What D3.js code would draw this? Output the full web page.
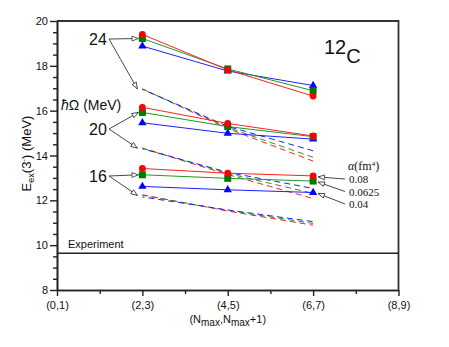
<!DOCTYPE html>
<html>
<head>
<meta charset="utf-8">
<script src="https://cdn.jsdelivr.net/npm/d3@7"></script>
<style>
  body { margin: 0; background: #fff; }
  text { font-family: "Liberation Sans", Arial, sans-serif; fill: #111; }
  .serif { font-family: "Liberation Serif", "Times New Roman", serif; }
</style>
</head>
<body>
<div id="chart"></div>
<script>
// x categories (Nmax, Nmax+1)
const xLabels = ['(0,1)', '(2,3)', '(4,5)', '(6,7)', '(8,9)'];
const xUsed = [1, 2, 3];

// alpha values (fm^4) in order red, green, blue
const alphas = ['0.08', '0.0625', '0.04'];
const hwLabels = ['24', '20', '16'];

// solid lines: E_ex(3-) per hbar-omega, rows = alpha
const solid24 = [[19.40, 17.82, 16.65], [19.22, 17.86, 16.89], [18.88, 17.77, 17.12]];
const solid20 = [[16.15, 15.43, 14.87], [15.92, 15.29, 14.84], [15.46, 14.99, 14.73]];
const solid16 = [[13.42, 13.21, 13.09], [13.14, 12.98, 12.86], [12.62, 12.47, 12.35]];

// dashed lines
const dashed24 = [[16.97, 15.20, 13.75], [16.97, 15.25, 13.92], [16.95, 15.30, 14.21]];
const dashed20 = [[14.33, 13.15, 12.08], [14.33, 13.20, 12.31], [14.30, 13.25, 12.53]];
const dashed16 = [[12.25, 11.52, 10.89], [12.22, 11.55, 10.97], [12.15, 11.57, 11.05]];

const experiment = 9.64;
const yTicks = [8, 10, 12, 14, 16, 18, 20];

let width = 449,
    height = 347,
    margin = {top: 21, left: 57, bottom: 57, right: 50.5};

const colors = ['#ff2020', '#1f9a1f', '#2020ff'];
const markColors = ['#ff0000', '#007a00', '#0000ff'];

let svg = d3.select('#chart')
  .append('svg')
  .attr('width', width)
  .attr('height', height);

let defs = svg.append('defs');
defs.append('marker')
  .attr('id', 'open-arrow')
  .attr('markerUnits', 'userSpaceOnUse')
  .attr('viewBox', '0 0 10 8')
  .attr('refX', 9)
  .attr('refY', 4)
  .attr('markerWidth', 8)
  .attr('markerHeight', 6.4)
  .attr('orient', 'auto')
  .append('path')
  .attr('d', 'M1,1 L9,4 L1,7 Z')
  .attr('fill', '#fff')
  .attr('stroke', '#333')
  .attr('stroke-width', 1);

let x = d3.scaleLinear()
  .domain([0, 4])
  .range([margin.left, width - margin.right]);

let y = d3.scaleLinear()
  .domain([8, 20])
  .range([height - margin.bottom, margin.top]);

// #region axes

let xAxis = d3.axisBottom(x)
  .tickValues(d3.range(0, 5))
  .tickFormat((d) => xLabels[d])
  .tickSizeInner(6)
  .tickSizeOuter(0)
  .tickPadding(5);

let xMinor = d3.axisBottom(x)
  .tickValues(d3.range(0.5, 4, 1))
  .tickFormat('')
  .tickSizeInner(4)
  .tickSizeOuter(0);

let yAxis = d3.axisLeft(y)
  .tickValues(yTicks)
  .tickSizeInner(7)
  .tickSizeOuter(0)
  .tickPadding(2);

let yMinor = d3.axisLeft(y)
  .tickValues(d3.range(8, 20.01, 0.5).filter((v) => v % 2 !== 0))
  .tickFormat('')
  .tickSizeInner(4)
  .tickSizeOuter(0);

function styleAxis(g) {
  g.select('.domain').attr('stroke', '#222').attr('stroke-width', 1.6);
  g.selectAll('.tick line').attr('stroke', '#222').attr('stroke-width', 1.4);
  g.selectAll('.tick text')
    .style('font-family', '"Liberation Sans", Arial, sans-serif')
    .style('font-size', '11px')
    .attr('fill', '#222');
}

svg.append('g')
  .attr('transform', `translate(0,${height - margin.bottom})`)
  .call(xMinor).call(styleAxis);
svg.append('g')
  .attr('transform', `translate(0,${height - margin.bottom})`)
  .call(xAxis).call(styleAxis);
svg.append('g')
  .attr('transform', `translate(${margin.left},0)`)
  .call(yMinor).call(styleAxis);
svg.append('g')
  .attr('transform', `translate(${margin.left},0)`)
  .call(yAxis).call(styleAxis);

// top and right frame
svg.append('path')
  .attr('d', `M${x(0)},${y(20)} H${x(4)} V${y(8)}`)
  .attr('fill', 'none')
  .attr('stroke', '#333')
  .attr('stroke-width', 1.8);

// #endregion

// experiment line
svg.append('line')
  .attr('x1', x(0)).attr('x2', x(4))
  .attr('y1', y(experiment)).attr('y2', y(experiment))
  .attr('stroke', '#222')
  .attr('stroke-width', 1.4);

svg.append('text')
  .attr('x', x(0) + 11)
  .attr('y', y(experiment) - 5)
  .style('font-size', '11px')
  .text('Experiment');

// #region series

let line = d3.line()
  .x((d, i) => x(xUsed[i]))
  .y((d) => y(d));

let dashedSets = [dashed24, dashed20, dashed16];
let solidSets = [solid24, solid20, solid16];

dashedSets.forEach((set) => {
  set.forEach((vals, k) => {
    svg.append('path')
      .attr('d', line(vals))
      .attr('fill', 'none')
      .attr('stroke', colors[k])
      .attr('stroke-width', 1)
      .attr('stroke-dasharray', '6,4')
      .attr('stroke-dashoffset', k * 2);
  });
});

let triangle = d3.symbol().type(d3.symbolTriangle).size(30);

solidSets.forEach((set) => {
  [2, 1, 0].forEach((k) => {
    let vals = set[k];
    svg.append('path')
      .attr('d', line(vals))
      .attr('fill', 'none')
      .attr('stroke', colors[k])
      .attr('stroke-width', 1);
  });
  [2, 1, 0].forEach((k) => {
    let g = svg.append('g');
    set[k].forEach((v, i) => {
      let cx = x(xUsed[i]), cy = y(v);
      if (k === 0) {
        g.append('circle').attr('cx', cx).attr('cy', cy).attr('r', 3.4)
          .attr('fill', markColors[k]);
      } else if (k === 1) {
        g.append('rect').attr('x', cx - 3.5).attr('y', cy - 3.5)
          .attr('width', 7).attr('height', 7).attr('fill', markColors[k]);
      } else {
        g.append('path').attr('d', triangle)
          .attr('transform', `translate(${cx},${cy})`)
          .attr('fill', markColors[k]);
      }
    });
  });
});

// #endregion

// #region annotations

function arrow(x1, y1, x2, y2) {
  svg.append('line')
    .attr('x1', x1).attr('y1', y1)
    .attr('x2', x2).attr('y2', y2)
    .attr('stroke', '#333')
    .attr('stroke-width', 0.9)
    .attr('marker-end', 'url(#open-arrow)');
}

let hwTextY = [39, 129, 176];
hwLabels.forEach((lab, i) => {
  svg.append('text')
    .attr('x', 89)
    .attr('y', hwTextY[i] + 6)
    .style('font-size', '16px')
    .text(lab);
  let sx = 109, sy = hwTextY[i];
  arrow(sx, sy, x(1) - 4, y(solidSets[i][1][0]));
  arrow(sx, sy, x(1) - 5, y(dashedSets[i][1][0]));
});

svg.append('text')
  .attr('x', 61)
  .attr('y', 110)
  .style('font-size', '14px')
  .html('<tspan font-style="italic">ħ</tspan>Ω (MeV)');

// alpha legend
svg.append('text')
  .attr('class', 'serif')
  .attr('x', 348)
  .attr('y', 170)
  .style('font-size', '12px')
  .html('<tspan font-style="italic">α</tspan>(fm<tspan dy="-4" font-size="7px">4</tspan><tspan dy="4">)</tspan>');

let legendY = [179, 191.5, 204];
alphas.forEach((a, k) => {
  svg.append('text')
    .attr('class', 'serif')
    .attr('x', 349)
    .attr('y', legendY[k] + 4)
    .style('font-size', '11px')
    .text(a);
  arrow(345, legendY[k], x(3) + 5, y(solid16[k][2]) + 1);
});

// nucleus label
svg.append('text')
  .attr('x', 324)
  .attr('y', 63)
  .style('font-size', '20px')
  .html('<tspan dy="-9">12</tspan><tspan dy="9">C</tspan>');

// axis titles
svg.append('text')
  .attr('transform', `translate(31,${y(14) - 2}) rotate(-90)`)
  .attr('text-anchor', 'middle')
  .style('font-size', '13px')
  .html('E<tspan dy="3" font-size="9px">ex</tspan><tspan dy="-3">(3</tspan><tspan dy="-5" font-size="8px">-</tspan><tspan dy="5">) (MeV)</tspan>');

svg.append('text')
  .attr('x', x(2))
  .attr('y', 323)
  .attr('text-anchor', 'middle')
  .style('font-size', '11px')
  .html('(N<tspan dy="3" font-size="10px">max</tspan><tspan dy="-3">,N</tspan><tspan dy="3" font-size="10px">max</tspan><tspan dy="-3">+1)</tspan>');

// #endregion
</script>
</body>
</html>
